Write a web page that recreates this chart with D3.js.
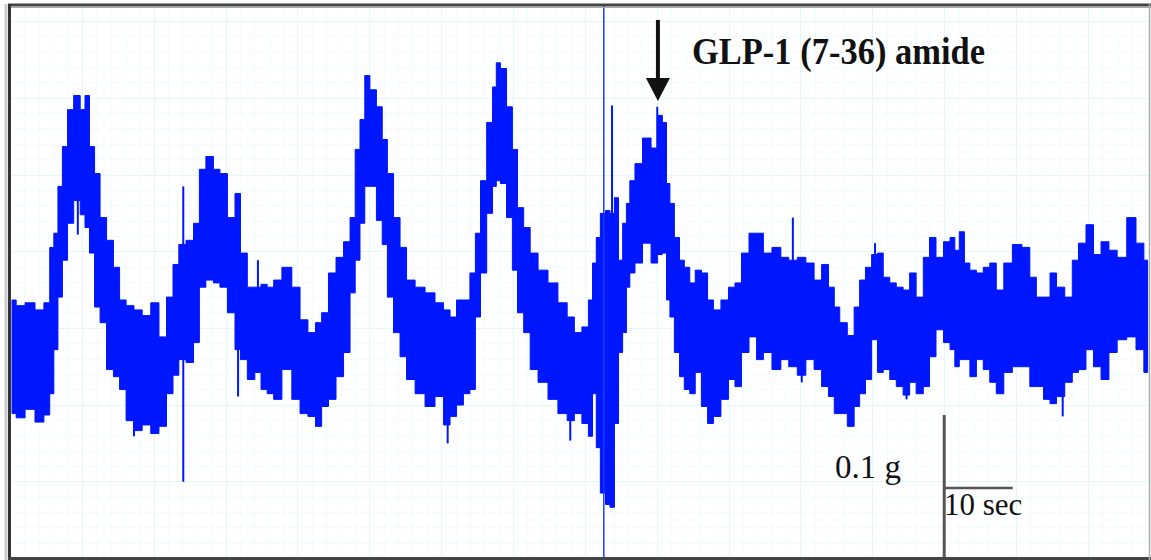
<!DOCTYPE html>
<html>

<head>
  <title>GLP-1 (7-36) amide trace</title>
  <script src="https://d3js.org/d3.v7.min.js"></script>
  <style>
    body {
      margin: 0;
      background: #fff;
    }

    .grid-minor line {
      stroke: #f1fcfc;
      stroke-width: 1px;
    }

    .grid-major line {
      stroke: #e2f9f9;
      stroke-width: 1px;
    }

    .trace {
      fill: #0016ff;
      stroke: #0016ff;
      stroke-width: 1px;
    }

    .spike {
      stroke: #0016ff;
      stroke-width: 2px;
    }

    .label {
      font-family: "Liberation Serif", "Times New Roman", serif;
      fill: #111;
    }
  </style>
</head>

<body>
  <svg id="chart" width="1151" height="560"></svg>

  <script>
    // trace envelope: time (s), upper and lower force (mg)
    const traceTime = [0.3, 1.5, 2.9, 4.4, 5.5, 6.1, 6.7, 7.3, 8.0, 8.8,
      9.8, 10.7, 11.2, 12.0, 12.7, 13.6, 14.6, 15.6, 16.4, 17.5,
      18.7, 19.9, 21.2, 22.3, 23.4, 24.2, 25.1, 26.3, 27.3, 28.0,
      29.2, 30.2, 31.1, 32.4, 33.3, 34.0, 35.3, 36.2, 37.1, 38.0,
      39.0, 40.4, 41.9, 42.8, 44.2, 45.0, 46.0, 47.0, 48.2, 49.2,
      50.1, 50.7, 51.5, 52.1, 53.0, 54.0, 54.7, 55.5, 56.5, 57.4,
      58.4, 59.9, 61.3, 62.8, 63.8, 64.7, 65.7, 66.7, 67.6, 68.3,
      69.1, 70.1, 70.8, 71.2, 72.0, 73.0, 73.7, 74.5, 75.5, 76.4,
      77.8, 79.3, 80.7, 82.0, 82.8, 84.2, 84.7, 85.4, 85.8, 86.6,
      87.3, 87.9, 88.6, 89.1, 89.8, 90.2, 90.8, 91.7, 93.0, 94.2,
      94.9, 95.6, 96.1, 96.6, 97.4, 98.1, 98.8, 99.7, 100.4, 101.5,
      102.2, 103.2, 104.4, 105.4, 106.3, 107.3, 108.5, 109.5, 110.5, 112.0,
      113.1, 114.3, 115.6, 116.8, 118.0, 119.0, 120.0, 120.7, 121.6, 122.9,
      123.6, 124.5, 125.3, 126.3, 127.0, 128.0, 128.9, 129.9, 130.9, 131.8,
      132.8, 133.9, 134.6, 135.8, 136.8, 137.7, 138.2, 139.0, 139.7, 140.6,
      141.6, 142.6, 143.5, 144.5, 145.7, 147.0, 148.5, 149.3, 150.4, 151.4,
      152.3, 153.3, 154.7, 155.5, 156.5, 157.7, 158.7, 159.9, 161.0, 162.3,
      163.8, 165.0, 166.1];

    const traceMax = [181, 177, 179, 174, 179, 218, 228, 261, 289, 315,
      325, 315, 325, 289, 270, 239, 223, 204, 181, 177,
      174, 170, 179, 155, 183, 206, 220, 223, 235, 273,
      282, 273, 270, 239, 256, 214, 190, 190, 192, 190,
      195, 204, 190, 167, 158, 165, 172, 200, 211, 222,
      239, 287, 308, 339, 329, 317, 294, 270, 239, 218,
      195, 190, 186, 179, 174, 169, 181, 181, 200, 228,
      265, 306, 331, 348, 344, 317, 287, 246, 232, 214,
      202, 193, 179, 169, 158, 162, 181, 207, 225, 242,
      244, 242, 253, 209, 235, 249, 265, 277, 295, 288,
      311, 306, 263, 249, 225, 209, 204, 193, 202, 200,
      181, 174, 181, 190, 193, 214, 228, 228, 214, 218,
      211, 209, 211, 207, 195, 206, 190, 176, 165, 156,
      176, 195, 204, 213, 214, 197, 193, 190, 188, 200,
      183, 211, 225, 211, 222, 225, 216, 229, 207, 202,
      200, 204, 207, 188, 207, 220, 218, 197, 183, 183,
      200, 190, 183, 209, 221, 234, 213, 222, 216, 211,
      239, 221, 209];

    const traceMin = [101, 98, 104, 95, 100, 115, 146, 183, 209, 235,
      251, 241, 232, 214, 176, 165, 132, 127, 118, 96,
      89, 93, 87, 92, 115, 128, 139, 137, 151, 190,
      195, 193, 190, 172, 146, 139, 125, 130, 118, 115,
      111, 132, 111, 101, 99, 92, 106, 111, 127, 144,
      186, 209, 235, 261, 261, 237, 220, 183, 158, 141,
      125, 115, 106, 113, 93, 99, 107, 115, 118, 169,
      200, 242, 261, 265, 263, 239, 202, 172, 158, 132,
      123, 111, 101, 96, 101, 94, 85, 115, 77, 45,
      37, 35, 94, 144, 158, 190, 200, 207, 221, 207,
      213, 214, 181, 169, 144, 127, 118, 115, 130, 106,
      94, 99, 111, 125, 120, 144, 155, 139, 144, 132,
      139, 134, 128, 139, 132, 120, 113, 101, 101, 92,
      106, 115, 125, 153, 130, 132, 125, 120, 114, 123,
      115, 120, 141, 160, 151, 146, 134, 139, 139, 127,
      139, 132, 123, 115, 130, 134, 134, 120, 120, 111,
      108, 113, 123, 130, 132, 146, 134, 125, 144, 153,
      155, 146, 130];

    // single-sample excursions (time s, force mg)
    const spikeTime = [9.9, 18.1, 25.3, 25.3, 33.3, 36.2, 63.9, 81.8, 87.9, 94.5, 114.3, 115.6, 126.3, 130.9, 153.7];
    const spikeValue = [227, 85, 53, 261, 113, 209, 80, 82, 318, 317, 239, 123, 221, 111, 99];

    // drug application and annotations
    const markTime = 86.7;
    const arrowTime = 94.6;
    const drugLabel = "GLP-1 (7-36) amide";
    const forceBarLabel = "0.1 g";
    const timeBarLabel = "10 sec";
    const forceBar = 100;   // mg
    const timeBar = 10;     // s
    const barTime = 136.4;

    const svg = d3.select("svg#chart");
    const frame = { left: 10, right: 1149, top: 6, bottom: 557 };

    const xScale = d3.scaleLinear().domain([0, 166.3]).range([frame.left, frame.right]);
    const yScale = d3.scaleLinear().domain([0, 388]).range([frame.bottom, frame.top]);

    // chart paper grid
    const gridArea = svg.append("g");
    const majorX = 71.86, majorY = 76.7;
    const vMinor = d3.range(frame.left, frame.right, majorX / 5);
    const hMinor = d3.range(frame.bottom + 1, frame.top, -majorY / 5);

    const minorG = gridArea.append("g").attr("class", "grid-minor");
    minorG.selectAll("line.v").data(vMinor).join("line").attr("class", "v")
      .attr("x1", d => Math.round(d) + 0.5).attr("x2", d => Math.round(d) + 0.5)
      .attr("y1", frame.top).attr("y2", frame.bottom);
    minorG.selectAll("line.h").data(hMinor).join("line").attr("class", "h")
      .attr("y1", d => Math.round(d) + 0.5).attr("y2", d => Math.round(d) + 0.5)
      .attr("x1", frame.left).attr("x2", frame.right);

    const vMajor = d3.range(frame.left, frame.right, majorX);
    const hMajor = d3.range(frame.bottom + 1, frame.top, -majorY);
    const majorG = gridArea.append("g").attr("class", "grid-major");
    majorG.selectAll("line.v").data(vMajor).join("line").attr("class", "v")
      .attr("x1", d => Math.round(d) + 0.5).attr("x2", d => Math.round(d) + 0.5)
      .attr("y1", frame.top).attr("y2", frame.bottom);
    majorG.selectAll("line.h").data(hMajor).join("line").attr("class", "h")
      .attr("y1", d => Math.round(d) + 0.5).attr("y2", d => Math.round(d) + 0.5)
      .attr("x1", frame.left).attr("x2", frame.right);

    // the force trace
    const trace = traceTime.map((t, i) => ({ t: t, hi: traceMax[i], lo: traceMin[i] }));

    const area = d3.area()
      .x(d => xScale(d.t))
      .y0(d => yScale(d.lo))
      .y1(d => yScale(d.hi))
      .curve(d3.curveStep);

    svg.append("path").datum(trace)
      .attr("class", "trace")
      .attr("d", area);

    const bisect = d3.bisector(d => d.t).center;
    const spikes = spikeTime.map((t, i) => ({ t: t, v: spikeValue[i] }));
    svg.selectAll("line.spike").data(spikes).join("line")
      .attr("class", "spike")
      .attr("x1", d => xScale(d.t)).attr("x2", d => xScale(d.t))
      .attr("y1", d => {
        const p = trace[bisect(trace, d.t)];
        return yScale((p.hi + p.lo) / 2);
      })
      .attr("y2", d => yScale(d.v));

    // marker line
    svg.append("line")
      .attr("x1", xScale(markTime)).attr("x2", xScale(markTime))
      .attr("y1", frame.top).attr("y2", frame.bottom)
      .attr("stroke", "#1a3cff").attr("stroke-width", 1.5);

    // arrow + label
    const ax = xScale(arrowTime);
    svg.append("line")
      .attr("x1", ax).attr("x2", ax)
      .attr("y1", 20).attr("y2", 82)
      .attr("stroke", "#111").attr("stroke-width", 4);
    svg.append("path")
      .attr("d", `M${ax - 12},78 L${ax + 12},78 L${ax},101 Z`)
      .attr("fill", "#111");
    svg.append("text").attr("class", "label")
      .attr("x", 692).attr("y", 64)
      .attr("font-size", 37).attr("font-weight", "bold")
      .attr("textLength", 293).attr("lengthAdjust", "spacingAndGlyphs")
      .text(drugLabel);

    // scale bars
    const bx = xScale(barTime);
    const barY = yScale(forceBar) + 73;
    svg.append("line")
      .attr("x1", bx).attr("x2", bx)
      .attr("y1", yScale(forceBar)).attr("y2", yScale(0))
      .attr("stroke", "#555").attr("stroke-width", 3);
    svg.append("line")
      .attr("x1", bx).attr("x2", bx + xScale(timeBar) - xScale(0))
      .attr("y1", barY).attr("y2", barY)
      .attr("stroke", "#555").attr("stroke-width", 2.5);
    svg.append("text").attr("class", "label")
      .attr("x", 835).attr("y", 478)
      .attr("font-size", 33)
      .text(forceBarLabel);
    svg.append("text").attr("class", "label")
      .attr("x", 944).attr("y", 515)
      .attr("font-size", 31)
      .text(timeBarLabel);

    // frame
    svg.append("line").attr("x1", 8).attr("x2", 1151).attr("y1", 5).attr("y2", 5)
      .attr("stroke", "#444").attr("stroke-width", 3);
    svg.append("line").attr("x1", 8).attr("x2", 1151).attr("y1", 7.5).attr("y2", 7.5)
      .attr("stroke", "#aaa").attr("stroke-width", 1);
    svg.append("line").attr("x1", 6).attr("x2", 6).attr("y1", 4).attr("y2", 560)
      .attr("stroke", "#ccc").attr("stroke-width", 3);
    svg.append("line").attr("x1", 9.5).attr("x2", 9.5).attr("y1", 4).attr("y2", 560)
      .attr("stroke", "#333").attr("stroke-width", 3);
    svg.append("line").attr("x1", 8).attr("x2", 1151).attr("y1", 558.5).attr("y2", 558.5)
      .attr("stroke", "#444").attr("stroke-width", 3);
    svg.append("line").attr("x1", 1149.5).attr("x2", 1149.5).attr("y1", 4).attr("y2", 560)
      .attr("stroke", "#aaa").attr("stroke-width", 1.5);
  </script>
</body>

</html>
